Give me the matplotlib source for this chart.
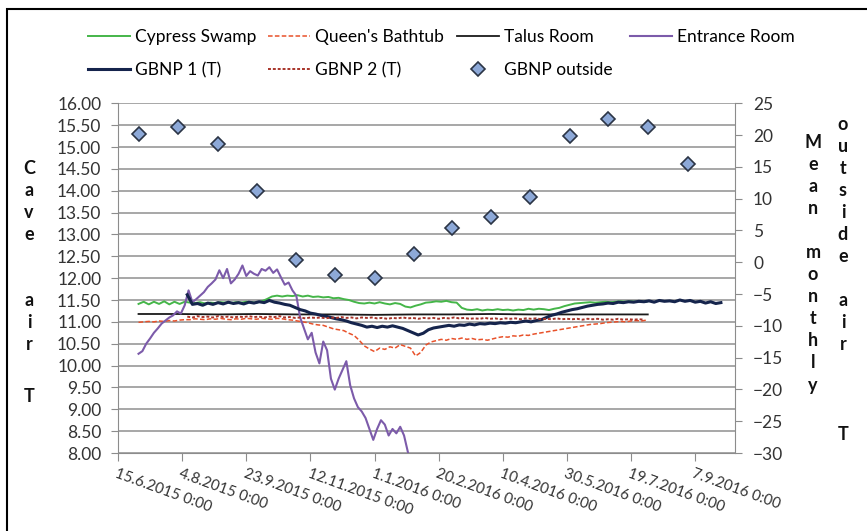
import matplotlib
matplotlib.use("Agg")  # headless
import matplotlib.pyplot as plt
from matplotlib.patches import Rectangle
import pandas as pd

plt.rcParams["font.family"] = ["Lato", "DejaVu Sans"]

# ---------------- data ----------------
# Cypress Swamp, every 4 days from 1.7.2015
cypress = [
    11.41, 11.46, 11.40, 11.46, 11.41, 11.47, 11.40, 11.46, 11.41, 11.46,
    11.44, 11.43, 11.45, 11.42, 11.44, 11.43, 11.45, 11.44, 11.43, 11.45,
    11.44, 11.46, 11.45, 11.44, 11.47, 11.52, 11.58, 11.60, 11.58, 11.60,
    11.59, 11.61, 11.58, 11.60, 11.57, 11.58, 11.56, 11.57, 11.54, 11.55,
    11.52, 11.50, 11.46, 11.43, 11.42, 11.44, 11.42, 11.45, 11.42, 11.40,
    11.43, 11.41, 11.35, 11.33, 11.37, 11.40, 11.44, 11.45, 11.47, 11.46,
    11.48, 11.45, 11.44, 11.32, 11.28, 11.27, 11.29, 11.26, 11.28, 11.27,
    11.29, 11.27, 11.28, 11.26, 11.28, 11.27, 11.30, 11.28, 11.30, 11.29,
    11.27, 11.30, 11.32, 11.36, 11.39, 11.42, 11.43, 11.44, 11.45, 11.44,
    11.45, 11.46, 11.45, 11.46, 11.47, 11.46, 11.47, 11.46, 11.47, 11.46,
]

# Queen's Bathtub, every 4 days from 1.7.2015
queens = [
    10.99, 11.00, 11.01, 11.00, 11.02, 11.01, 11.03, 11.02, 11.04, 11.05,
    11.05, 11.07, 11.06, 11.05, 11.07, 11.06, 11.08, 11.06, 11.05, 11.07,
    11.06, 11.08, 11.07, 11.06, 11.08, 11.07, 11.06, 11.08, 11.07, 11.05,
    11.04, 11.02, 11.00, 10.98, 10.95, 10.93, 10.92, 10.88, 10.84, 10.82,
    10.80, 10.74, 10.69, 10.58, 10.45, 10.38, 10.32, 10.40, 10.37, 10.43,
    10.40, 10.48, 10.44, 10.40, 10.22, 10.30, 10.47, 10.54, 10.57, 10.60,
    10.58, 10.62, 10.60, 10.63, 10.60, 10.62, 10.59, 10.60, 10.58, 10.61,
    10.64, 10.66, 10.65, 10.68, 10.67, 10.70, 10.69, 10.72, 10.74, 10.76,
    10.78, 10.80, 10.82, 10.84, 10.86, 10.88, 10.90, 10.92, 10.94, 10.95,
    10.96, 10.98, 10.99, 11.00, 11.01, 11.00, 11.02, 11.03, 11.02, 11.04,
]

# Talus Room, monthly from 1.7.2015
talus = [11.18, 11.18, 11.17, 11.18, 11.17, 11.17, 11.16, 11.17,
         11.17, 11.18, 11.17, 11.17, 11.17, 11.17]

# Entrance Room, every 3 days from 1.7.2015
entrance = [
    10.27, 10.33, 10.50, 10.62, 10.75, 10.85, 10.96, 11.03, 11.10, 11.15,
    11.24, 11.19, 11.38, 11.72, 11.45, 11.52, 11.60, 11.68, 11.80, 11.88,
    11.97, 12.18, 12.00, 12.21, 11.88, 11.97, 12.10, 12.29, 12.05, 12.16,
    12.10, 12.06, 12.21, 12.17, 12.25, 12.12, 12.20, 12.02, 11.85, 11.90,
    11.72, 11.60, 11.10, 10.85, 10.60, 10.75, 10.30, 10.05, 10.55, 10.35,
    9.70, 9.45, 9.70, 9.90, 10.10, 9.55, 9.25, 9.05, 8.95, 8.80,
    8.55, 8.30, 8.55, 8.75, 8.65, 8.40, 8.55, 8.45, 8.60, 8.40,
    8.02,
]

# GBNP 1 (T), every 4 days from 8.8.2015
gbnp1 = [
    11.62, 11.40, 11.42, 11.38, 11.43, 11.40, 11.44, 11.41, 11.45, 11.42,
    11.44, 11.41, 11.45, 11.43, 11.46, 11.44, 11.49, 11.45, 11.43, 11.40,
    11.38, 11.33, 11.28, 11.25, 11.20, 11.18, 11.15, 11.13, 11.10, 11.07,
    11.05, 11.02, 10.98, 10.95, 10.92, 10.88, 10.90, 10.87, 10.90, 10.88,
    10.91, 10.88, 10.85, 10.80, 10.75, 10.70, 10.74, 10.82, 10.86, 10.88,
    10.90, 10.92, 10.90, 10.93, 10.92, 10.95, 10.93, 10.96, 10.95, 10.97,
    10.96, 10.98, 10.97, 10.99, 10.98, 11.00, 11.02, 11.00, 11.03, 11.05,
    11.10, 11.15, 11.18, 11.22, 11.25, 11.28, 11.30, 11.33, 11.36, 11.38,
    11.40, 11.41, 11.43, 11.42, 11.45, 11.44, 11.46, 11.45, 11.47, 11.46,
    11.48, 11.45, 11.49, 11.47, 11.48, 11.46, 11.50, 11.47, 11.49, 11.45,
    11.47, 11.43, 11.46, 11.42, 11.44,
]

# GBNP 2 (T), every 4 days from 8.8.2015
gbnp2 = [
    11.12, 11.10, 11.13, 11.11, 11.12, 11.10, 11.13, 11.11, 11.12, 11.10,
    11.12, 11.11, 11.13, 11.11, 11.12, 11.10, 11.12, 11.11, 11.13, 11.10,
    11.11, 11.09, 11.10, 11.08, 11.10, 11.09, 11.10, 11.08, 11.10, 11.09,
    11.11, 11.09, 11.10, 11.08, 11.10, 11.09, 11.10, 11.08, 11.09, 11.07,
    11.09, 11.08, 11.10, 11.08, 11.09, 11.07, 11.09, 11.08, 11.09, 11.07,
    11.09, 11.08, 11.10, 11.08, 11.09, 11.07, 11.08, 11.07, 11.09, 11.07,
    11.08, 11.06, 11.08, 11.07, 11.08, 11.06, 11.08, 11.07, 11.08, 11.06,
    11.07, 11.06, 11.08, 11.06, 11.07, 11.06, 11.07, 11.05, 11.07, 11.06,
    11.07, 11.05, 11.06, 11.05, 11.07, 11.05, 11.06, 11.05, 11.06, 11.05,
]

# GBNP outside, monthly mean, 1st of month from 1.7.2015
outside = [20.2, 21.2, 18.6, 11.2, 0.3, -2.0, -2.5, 1.3,
           5.4, 7.1, 10.3, 19.9, 22.6, 21.2, 15.4]

cypress_dates = pd.date_range("2015-07-01", periods=len(cypress), freq="4D")
queens_dates = pd.date_range("2015-07-01", periods=len(queens), freq="4D")
talus_dates = pd.date_range("2015-07-01", periods=len(talus), freq="MS")
entrance_dates = pd.date_range("2015-07-01", periods=len(entrance), freq="3D")
gbnp1_dates = pd.date_range("2015-08-08", periods=len(gbnp1), freq="4D")
gbnp2_dates = pd.date_range("2015-08-08", periods=len(gbnp2), freq="4D")
outside_dates = pd.date_range("2015-07-01", periods=len(outside), freq="MS")

x_ticks = pd.date_range("2015-06-15", periods=10, freq="50D")
left_ticks = [8 + 0.5 * i for i in range(17)]
right_ticks = list(range(-30, 26, 5))

# ---------------- plotting ----------------
W, H = 867, 531
fig = plt.figure(figsize=(W / 100, H / 100), dpi=100)
ax = fig.add_axes([118 / W, 1 - 453 / H, (735 - 118) / W, (453 - 103.3) / H])
ax2 = ax.twinx()

l_cyp, = ax.plot(cypress_dates, cypress, color="#45b649", lw=1.4, label="Cypress Swamp")
l_que, = ax.plot(queens_dates, queens, color="#e8512a", lw=1.1, ls=(0, (3, 1.5)),
                 label="Queen's Bathtub")
l_tal, = ax.plot(talus_dates, talus, color="#1a1a1a", lw=1.3, label="Talus Room")
l_ent, = ax.plot(entrance_dates, entrance, color="#7c5baa", lw=1.5, label="Entrance Room")
l_g1, = ax.plot(gbnp1_dates, gbnp1, color="#15244c", lw=2.2, label="GBNP 1 (T)")
l_g2, = ax.plot(gbnp2_dates, gbnp2, color="#a8342a", lw=1.4, ls=(0, (1.5, 1)),
                label="GBNP 2 (T)")
l_out, = ax2.plot(outside_dates, outside, ls="none", marker="D", ms=7,
                  mfc="#8da9d8", mec="#2b3445", mew=1.2, label="GBNP outside")

ax.set_xlim(pd.Timestamp("2015-06-15"), pd.Timestamp("2016-10-08"))
ax.set_ylim(8, 16)
ax2.set_ylim(-30, 25)

ax.set_yticks(left_ticks)
ax.set_yticklabels([f"{v:.2f}" for v in left_ticks])
ax2.set_yticks(right_ticks)
ax.set_xticks(x_ticks)
ax.set_xticklabels([f"{d.day}.{d.month}.{d.year} 0:00" for d in x_ticks])
for t in ax.get_xticklabels():
    t.set_rotation(-20)
    t.set_rotation_mode("anchor")
    t.set_horizontalalignment("left")
    t.set_verticalalignment("top")

ax.yaxis.grid(True, color="#a0a0a0", lw=1.3)
ax.set_axisbelow(True)

axis_grey = "#8c8c8c"
for s in ["top", "right"]:
    ax.spines[s].set_visible(False)
for s in ["top", "left", "bottom"]:
    ax2.spines[s].set_visible(False)
ax.spines["left"].set_color(axis_grey)
ax.spines["bottom"].set_color(axis_grey)
ax2.spines["right"].set_color(axis_grey)

ax.tick_params(axis="y", direction="out", length=5, color=axis_grey,
               labelsize=12.5, labelcolor="#333333", pad=7)
ax.tick_params(axis="x", direction="out", length=6, color=axis_grey,
               labelsize=10.8, labelcolor="#333333", pad=4)
ax2.tick_params(axis="y", direction="out", length=5, color=axis_grey,
                labelsize=12.5, labelcolor="#333333", pad=8)


def stacked(x, y_top, text, dy=22):
    # Excel style stacked (one letter per line) axis title
    for i, ch in enumerate(text):
        if ch != " ":
            fig.text(x / W, 1 - (y_top + i * dy) / H, ch, ha="center", va="center",
                     fontsize=13, fontweight="bold", color="#111111")


stacked(29, 169, "Cave  air")
stacked(29, 397, "T")
stacked(813, 143, "Mean monthly")
stacked(843, 125, "outside air")
stacked(843, 435, "T")

# legend, four columns placed like the original
columns = [
    (88, [l_cyp, l_g1]),
    (268, [l_que, l_g2]),
    (457, [l_tal, l_out]),
    (630, [l_ent]),
]
for x0, hs in columns:
    fig.legend(handles=hs, loc="upper left", bbox_to_anchor=(x0 / W, 1 - 29 / H),
               frameon=False, borderpad=0, borderaxespad=0, handlelength=2.4,
               handletextpad=0.3, labelspacing=1.0, fontsize=12.5)

# chart-area frame
fig.add_artist(Rectangle((7 / W, -0.05), 1.0, 1.05 - 9 / H, transform=fig.transFigure,
                         fill=False, ec="black", lw=1.5))

fig.savefig("out.png", dpi=100)
